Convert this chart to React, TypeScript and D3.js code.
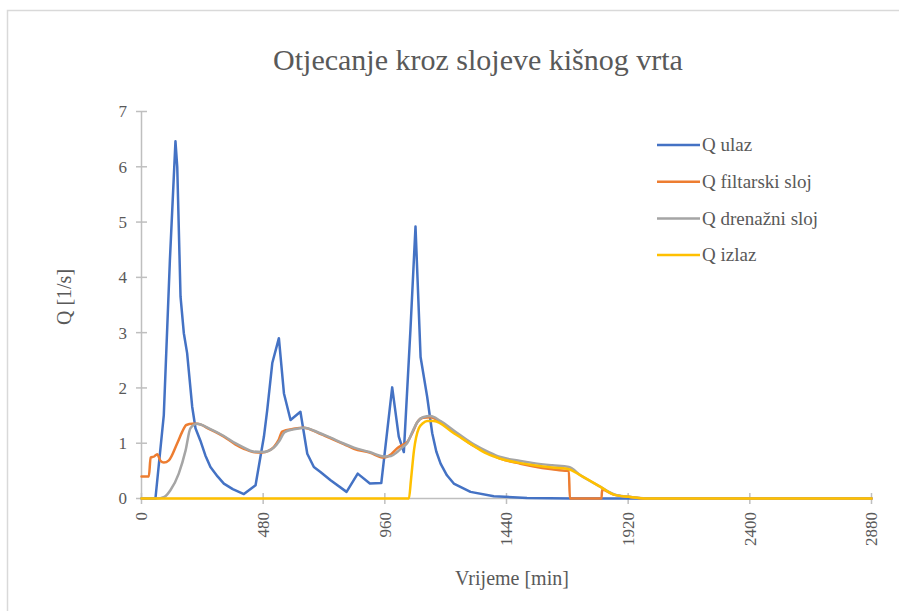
import React from "react";
import * as d3 from "d3";

const title = "Otjecanje kroz slojeve kišnog vrta";
const xTicks = [0, 480, 960, 1440, 1920, 2400, 2880];
const yTicks = [0, 1, 2, 3, 4, 5, 6, 7];
const seriesNames = ["Q ulaz", "Q filtarski sloj", "Q drenažni sloj", "Q izlaz"];
const seriesColors = ["#4472C4", "#ED7D31", "#A5A5A5", "#FFC000"];

const ulazT = [0, 55, 88, 112, 134, 141, 154, 167, 180, 200, 213, 232, 252, 272, 300, 325, 360, 404, 450, 483, 496, 516, 542, 562, 588, 627, 654, 680, 706, 746, 809, 853, 901, 946, 989, 1015, 1035, 1061, 1081, 1101, 1127, 1147, 1163, 1180, 1205, 1232, 1298, 1390, 1521, 1700, 2880];
const ulazV = [0, 0, 1.51, 4.31, 6.46, 6.0, 3.65, 2.99, 2.63, 1.66, 1.27, 1.05, 0.78, 0.57, 0.4, 0.27, 0.17, 0.08, 0.24, 1.12, 1.6, 2.45, 2.9, 1.9, 1.42, 1.57, 0.81, 0.57, 0.48, 0.33, 0.12, 0.45, 0.27, 0.28, 2.01, 1.12, 0.84, 3.05, 4.92, 2.56, 1.84, 1.18, 0.85, 0.63, 0.42, 0.27, 0.12, 0.04, 0.01, 0, 0];

const filtT = [0, 29, 36, 50, 62, 75, 88, 108, 141, 160, 177, 200, 219, 270, 325, 370, 404, 440, 476, 500, 522, 540, 555, 600, 640, 700, 746, 800, 838, 900, 956, 985, 1009, 1030, 1048, 1070, 1088, 1110, 1140, 1180, 1232, 1311, 1370, 1416, 1495, 1548, 1620, 1679, 1686, 1690, 1815, 1817, 1863, 1923, 1995, 2880];
const filtV = [0.4, 0.4, 0.74, 0.76, 0.8, 0.68, 0.65, 0.69, 1.0, 1.2, 1.33, 1.35, 1.35, 1.25, 1.12, 0.98, 0.9, 0.84, 0.83, 0.86, 0.93, 1.05, 1.21, 1.26, 1.28, 1.18, 1.09, 0.98, 0.9, 0.83, 0.74, 0.8, 0.91, 0.97, 1.02, 1.2, 1.38, 1.46, 1.47, 1.38, 1.21, 0.95, 0.82, 0.72, 0.63, 0.58, 0.53, 0.5, 0.5, 0, 0, 0.16, 0.07, 0.03, 0, 0];

const drenT = [0, 60, 90, 114, 147, 174, 193, 219, 270, 325, 370, 404, 440, 476, 500, 522, 545, 565, 600, 640, 700, 746, 800, 838, 900, 956, 985, 1009, 1030, 1048, 1070, 1088, 1110, 1140, 1180, 1232, 1311, 1370, 1416, 1495, 1548, 1620, 1686, 1732, 1811, 1863, 1923, 1995, 2880];
const drenV = [0, 0, 0.03, 0.15, 0.45, 0.87, 1.27, 1.35, 1.26, 1.13, 1.0, 0.92, 0.85, 0.84, 0.86, 0.92, 1.05, 1.2, 1.25, 1.28, 1.19, 1.1, 0.99, 0.92, 0.84, 0.76, 0.77, 0.84, 0.93, 1.0, 1.22, 1.38, 1.47, 1.49, 1.4, 1.23, 0.98, 0.84, 0.75, 0.68, 0.64, 0.6, 0.57, 0.42, 0.21, 0.08, 0.03, 0, 0];

const izlazT = [0, 1055, 1063, 1075, 1094, 1110, 1127, 1153, 1232, 1311, 1363, 1416, 1495, 1548, 1620, 1679, 1732, 1811, 1863, 1923, 1995, 2880];
const izlazV = [0, 0, 0.33, 0.87, 1.27, 1.36, 1.4, 1.4, 1.18, 0.95, 0.81, 0.72, 0.64, 0.6, 0.56, 0.54, 0.42, 0.21, 0.07, 0.03, 0, 0];

const seriesT = [ulazT, filtT, drenT, izlazT];
const seriesV = [ulazV, filtV, drenV, izlazV];

export default function App() {
  const W = 899, H = 611;
  const x = d3.scaleLinear().domain([0, 2880]).range([141.5, 871.5]);
  const y = d3.scaleLinear().domain([0, 7]).range([498.5, 111.5]);
  const font = '"Liberation Serif", "Times New Roman", "DejaVu Serif", serif';
  const textColor = "#595959";
  const axisColor = "#BFBFBF";
  const ts = { fontFamily: font } as React.CSSProperties;

  const paths = seriesT.map((tt, i) => {
    const pts: [number, number][] = tt.map((t, k) => [t, seriesV[i][k]]);
    const gen = d3
      .line<[number, number]>()
      .x((d) => x(d[0]))
      .y((d) => y(d[1]))
      .curve(i === 0 ? d3.curveLinear : d3.curveMonotoneX);
    return gen(pts) || "";
  });

  return (
    <svg width={W} height={H} style={{ position: "absolute", left: 0, top: 0, background: "#fff", fontFamily: font }}>
      <rect x={0} y={0} width={W} height={H} fill="#fff" />
      <rect x={7.5} y={10.5} width={1200} height={1200} fill="none" stroke="#D9D9D9" strokeWidth={1.5} />
      <text x={478} y={70} textAnchor="middle" style={ts} fontSize={30} fill={textColor}>
        {title}
      </text>
      <line x1={x(0)} x2={x(0)} y1={y(0)} y2={y(7)} stroke={axisColor} strokeWidth={1.5} />
      {yTicks.map((t) => (
        <g key={"y" + t}>
          <line x1={x(0) - 5.5} x2={x(0) + 5.5} y1={y(t)} y2={y(t)} stroke={axisColor} strokeWidth={1.5} />
          <text x={127} y={y(t)} dy="0.35em" textAnchor="end" style={ts} fontSize={17} fill={textColor}>
            {t}
          </text>
        </g>
      ))}
      <line x1={x(0)} x2={x(2880)} y1={y(0)} y2={y(0)} stroke={axisColor} strokeWidth={1.5} />
      {xTicks.map((t) => (
        <g key={"x" + t}>
          <line x1={x(t)} x2={x(t)} y1={y(0) - 5.5} y2={y(0) + 5.5} stroke={axisColor} strokeWidth={1.5} />
          <text
            transform={`translate(${x(t)},${512}) rotate(-90)`}
            dy="0.35em"
            textAnchor="end"
            style={ts}
            fontSize={17}
            fill={textColor}
          >
            {t}
          </text>
        </g>
      ))}
      <text transform="translate(71,297) rotate(-90)" textAnchor="middle" style={ts} fontSize={20} fill={textColor}>
        Q [1/s]
      </text>
      <text x={512} y={585} textAnchor="middle" style={ts} fontSize={20} fill={textColor}>
        Vrijeme [min]
      </text>
      {paths.map((p, i) => (
        <path key={"p" + i} d={p} fill="none" stroke={seriesColors[i]} strokeWidth={2.5} strokeLinejoin="round" strokeLinecap="round" />
      ))}
      {seriesNames.map((n, i) => {
        const cy = 145 + i * 36.7;
        return (
          <g key={"l" + i}>
            <line x1={657} x2={700} y1={cy} y2={cy} stroke={seriesColors[i]} strokeWidth={2.5} />
            <text x={702} y={cy} dy="0.33em" style={ts} fontSize={19} fill={textColor}>
              {n}
            </text>
          </g>
        );
      })}
    </svg>
  );
}
